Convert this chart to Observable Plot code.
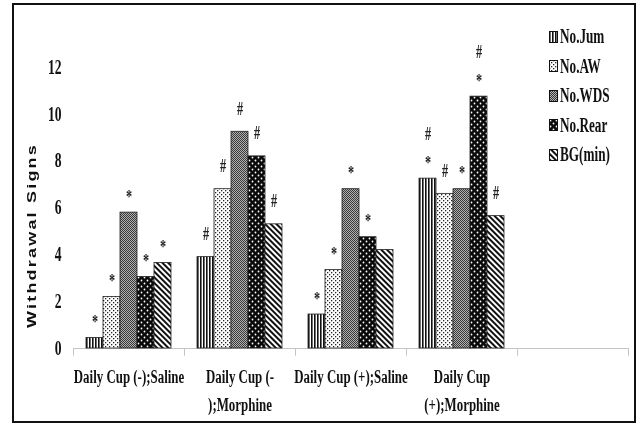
<!DOCTYPE html>
<html>
<head>
<meta charset="utf-8">
<script src="https://cdn.jsdelivr.net/npm/d3@7"></script>
<script src="https://cdn.jsdelivr.net/npm/@observablehq/plot@0.6"></script>
<style>
  html, body { margin: 0; padding: 0; background: #fff; }
  #wrap { position: relative; width: 640px; height: 425px; overflow: hidden; }
  #frame { position: absolute; left: 12px; top: 3px; width: 624px; height: 420px; box-sizing: border-box; border: 2px solid #111; }
  #chart { position: absolute; left: 0; top: 0; filter: grayscale(1); }
  #legend { position: absolute; left: 549px; top: 22px; font-family: "Liberation Serif", serif; font-weight: bold; font-size: 20px; color: #111; filter: grayscale(1); }
  #legend .row { height: 29.5px; display: flex; align-items: center; }
  #legend .row span { display: inline-block; transform: scaleX(0.66); transform-origin: left center; margin-left: 2px; white-space: nowrap; }
</style>
</head>
<body>
<svg width="0" height="0" style="position:absolute">
  <defs>
    <pattern id="p-jum" width="3" height="3" patternUnits="userSpaceOnUse">
      <rect width="3" height="3" fill="#fff"/>
      <rect width="1.6" height="3" fill="#111"/>
    </pattern>
    <pattern id="p-aw" width="4" height="4" patternUnits="userSpaceOnUse">
      <rect width="4" height="4" fill="#fff"/>
      <rect x="0" y="0" width="1.3" height="1.3" fill="#222"/>
      <rect x="2" y="2" width="1.3" height="1.3" fill="#222"/>
    </pattern>
    <pattern id="p-wds" width="2" height="2" patternUnits="userSpaceOnUse">
      <rect width="2" height="2" fill="#b0b0b0"/>
      <rect x="0" y="0" width="1" height="1" fill="#3a3a3a"/>
      <rect x="1" y="1" width="1" height="1" fill="#3a3a3a"/>
    </pattern>
    <pattern id="p-rear" width="6" height="6" patternUnits="userSpaceOnUse">
      <rect width="6" height="6" fill="#0a0a0a"/>
      <ellipse cx="1.5" cy="1.5" rx="0.9" ry="1.1" fill="#fff"/>
      <ellipse cx="4.5" cy="4.5" rx="0.9" ry="1.1" fill="#fff"/>
    </pattern>
    <pattern id="p-bg" width="4" height="4" patternUnits="userSpaceOnUse" patternTransform="rotate(-45)">
      <rect width="4" height="4" fill="#fff"/>
      <rect width="2" height="4" fill="#111"/>
    </pattern>
  </defs>
</svg>
<div id="wrap">
  <div id="frame"></div>
  <div id="chart"></div>
  <div id="legend"></div>
</div>
<script>
// ---- data ----
const categories = ["Daily Cup (-);Saline", "Daily Cup (-);Morphine", "Daily Cup (+);Saline", "Daily Cup (+);Morphine", "(empty)"];
const tickLabels = ["Daily Cup (-);Saline", "Daily Cup (-\n);Morphine", "Daily Cup (+);Saline", "Daily Cup\n(+);Morphine", ""];
const seriesNames = ["No.Jum", "No.AW", "No.WDS", "No.Rear", "BG(min)"];
const seriesKeys = ["jum", "aw", "wds", "rear", "bg"];

const noJum  = [0.45, 3.9, 1.45, 7.25];
const noAW   = [2.2, 6.8, 3.35, 6.6];
const noWDS  = [5.8, 9.25, 6.8, 6.8];
const noRear = [3.05, 8.2, 4.75, 10.75];
const bgMin  = [3.65, 5.3, 4.2, 5.65];

const annJum  = ["*", "#", "*", "#\n*"];
const annAW   = ["*", "#", "*", "#"];
const annWDS  = ["*", "#", "*", "*"];
const annRear = ["*", "#", "*", "#\n*"];
const annBG   = ["*", "#", "", "#"];

const yTicks = [0, 2, 4, 6, 8, 10, 12];
const yLabel = "Withdrawal Signs";

// ---- build ----
const seriesValues = [noJum, noAW, noWDS, noRear, bgMin];
const seriesAnn = [annJum, annAW, annWDS, annRear, annBG];
const barW = 17;
const bandW = 111;

const marks = [];
marks.push(Plot.ruleY([0], {stroke: "#c4c4c4", strokeWidth: 1}));
marks.push(Plot.ruleX(categories, {x: d => d, dx: -bandW / 2, y1: 0, y2: -0.33, stroke: "#c4c4c4"}));
marks.push(Plot.ruleX(categories.slice(-1), {x: d => d, dx: bandW / 2, y1: 0, y2: -0.33, stroke: "#c4c4c4"}));

seriesNames.forEach((name, i) => {
  const rows = categories.slice(0, 4).map((c, j) => ({category: c, value: seriesValues[i][j], label: seriesAnn[i][j]}));
  const off = (i - 2) * barW;
  marks.push(Plot.barY(rows, {
    x: "category", y: "value",
    fill: `url(#p-${seriesKeys[i]})`, stroke: "#222", strokeWidth: 0.8,
    dx: off, insetLeft: (bandW - barW) / 2, insetRight: (bandW - barW) / 2
  }));
  marks.push(Plot.text(rows.filter(r => r.label.endsWith("*")), {
    x: "category", y: "value", text: "label", dx: off, dy: -10,
    lineAnchor: "bottom", lineHeight: 1.6, fontSize: 18, fill: "#222"
  }));
  marks.push(Plot.text(rows.filter(r => r.label === "#"), {
    x: "category", y: "value", text: "label", dx: off, dy: -17,
    lineAnchor: "bottom", fontSize: 18, fill: "#222"
  }));
});

marks.push(Plot.axisY({ticks: yTicks, tickSize: 0, tickPadding: 12, label: null, fontSize: 20}));
marks.push(Plot.axisX({tickSize: 0, tickPadding: 15, label: null, lineHeight: 1.45, fontSize: 19,
  tickFormat: d => tickLabels[categories.indexOf(d)]}));
marks.push(Plot.text([yLabel], {frameAnchor: "left", rotate: -90, dx: -42, dy: 51, textAnchor: "middle",
  fontFamily: "Liberation Sans", fontSize: 18, fontWeight: "bold", fill: "#111"}));

const chart = Plot.plot({
  width: 640, height: 425,
  marginLeft: 73, marginRight: 12, marginTop: 20, marginBottom: 77,
  x: {type: "band", domain: categories, padding: 0},
  y: {domain: [0, 14]},
  style: {fontFamily: "Liberation Serif", fontSize: "18px", fontWeight: "bold", color: "#111", background: "transparent", overflow: "visible"},
  marks
});

// squeeze text horizontally to match the compressed look of the reference
chart.querySelectorAll("text").forEach(t => {
  let tr = t.getAttribute("transform");
  if (!tr) {
    const x = t.getAttribute("x") || 0, y = t.getAttribute("y") || 0;
    t.removeAttribute("x"); t.removeAttribute("y");
    tr = `translate(${x},${y})`;
  }
  if (t.textContent === yLabel) {
    t.setAttribute("transform", tr + " scale(1,0.72)");
    t.style.letterSpacing = "2.2px";
  } else {
    t.setAttribute("transform", tr + " scale(0.68,1)");
  }
});
document.getElementById("chart").appendChild(chart);

// legend
const legend = document.getElementById("legend");
seriesNames.forEach((name, i) => {
  const row = document.createElement("div");
  row.className = "row";
  row.innerHTML = `<svg width="9" height="12"><rect x="0.5" y="0.5" width="8" height="11" fill="url(#p-${seriesKeys[i]})" stroke="#111"/></svg><span>${name}</span>`;
  legend.appendChild(row);
});
</script>
</body>
</html>
